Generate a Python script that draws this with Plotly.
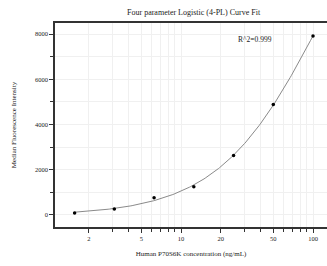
import numpy as np
import plotly.graph_objects as go

conc = [1.5625, 3.125, 6.25, 12.5, 25, 50, 100]
mfi = [88, 265, 765, 1252, 2624, 4880, 7920]
x_ticks = [2, 5, 10, 20, 50, 100]
x_minor = [3, 4, 6, 7, 8, 9, 30, 40, 60, 70, 80, 90]
y_ticks = [0, 2000, 4000, 6000, 8000]
r2_text = "R^2=0.999"

# 4PL fit: y = d + (a - d) / (1 + (x/c)^b)
xa = np.array(conc, float)
ya = np.array(mfi, float)
best = None
for b in np.linspace(0.5, 3.0, 126):
    for logc in np.linspace(0.5, 4.0, 176):
        c = 10 ** logc
        w = 1.0 / (1.0 + (xa / c) ** b)
        A = np.vstack([w, 1 - w]).T
        coef, *_ = np.linalg.lstsq(A, ya, rcond=None)
        res = np.sum((A @ coef - ya) ** 2)
        if best is None or res < best[0]:
            best = (res, b, c, coef[0], coef[1])
_, b, c, a, d = best
xc = np.logspace(np.log10(conc[0]), np.log10(conc[-1]), 200)
yc = d + (a - d) / (1 + (xc / c) ** b)

serif = "Liberation Serif, Times New Roman, serif"
fig = go.Figure()
fig.add_trace(go.Scatter(x=xc, y=yc, mode="lines",
                         line=dict(color="#8a8a8a", width=1), hoverinfo="skip"))
fig.add_trace(go.Scatter(x=conc, y=mfi, mode="markers",
                         marker=dict(color="black", size=3.5)))

fig.update_layout(
    width=327, height=266,
    margin=dict(l=55, r=0, t=23, b=39, autoexpand=False),
    paper_bgcolor="white", plot_bgcolor="white",
    showlegend=False,
    font=dict(family=serif, color="#222", size=6.5),
    title=dict(text="Four parameter Logistic (4-PL) Curve Fit", x=0.592, xanchor="center",
               y=0.955, yanchor="middle", font=dict(family=serif, size=8, color="#222")),
    annotations=[dict(text=r2_text, x=0.735, y=0.95, xref="paper", yref="paper",
                      xanchor="center", showarrow=False,
                      font=dict(family=serif, size=7.5, color="#222"))],
)
fig.update_xaxes(
    type="log", range=[np.log10(1.11), np.log10(127.6)],
    tickmode="array", tickvals=x_ticks, ticktext=[str(v) for v in x_ticks],
    ticks="outside", ticklen=4, tickcolor="#333", tickwidth=1,
    showgrid=True, gridcolor="#f0f0f0", gridwidth=1,
    minor=dict(tickmode="array", tickvals=x_minor, ticks="outside", ticklen=3,
               tickcolor="#333", showgrid=True, gridcolor="#f0f0f0"),
    showline=True, linecolor="#333", linewidth=1.5, mirror=True,
    zeroline=False, automargin=False,
    title=dict(text="Human P70S6K concentration (ng/mL)", standoff=11,
               font=dict(family=serif, size=7, color="#222")),
)
fig.update_yaxes(
    range=[-533, 8490],
    tickmode="array", tickvals=y_ticks,
    ticks="outside", ticklen=4, tickcolor="#333", tickwidth=1,
    showgrid=True, gridcolor="#f0f0f0",
    minor=dict(dtick=1000, ticks="outside", ticklen=3, tickcolor="#333",
               showgrid=True, gridcolor="#f0f0f0"),
    showline=True, linecolor="#333", linewidth=1.5,
    zeroline=False, automargin=False,
    title=dict(text="Median Fluorescence Intensity", standoff=18,
               font=dict(family=serif, size=7, color="#222")),
)
fig.write_html("out.html", config={"displayModeBar": False},
               post_script="document.body.style.margin='0';")
